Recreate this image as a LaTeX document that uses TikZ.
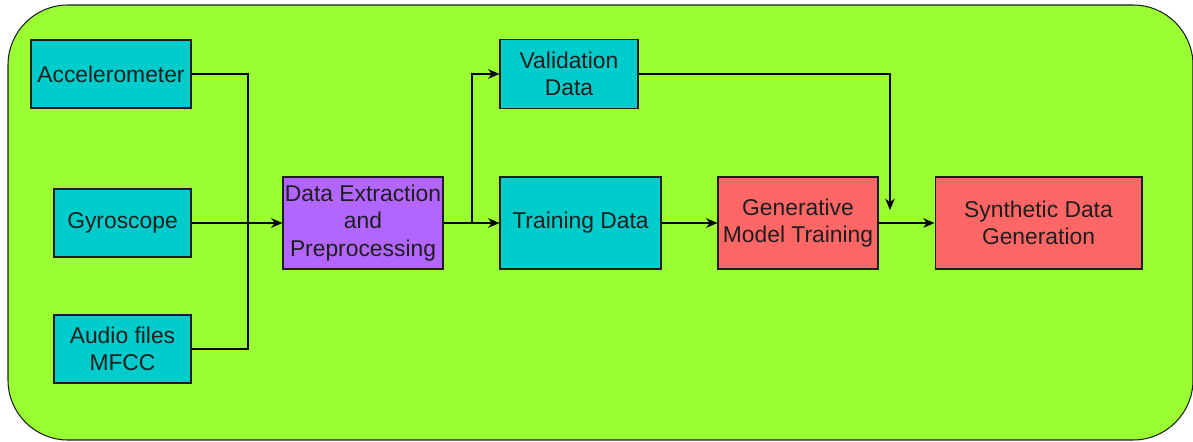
\documentclass[tikz,border=0pt]{standalone}
\usepackage{fontspec}
\setmainfont{Liberation Sans}
\usetikzlibrary{arrows.meta}

\definecolor{bggreen}{RGB}{153,255,51}
\definecolor{boxcyan}{RGB}{0,204,204}
\definecolor{boxpurple}{RGB}{178,102,255}
\definecolor{boxred}{RGB}{255,102,102}
\definecolor{inkgray}{RGB}{30,30,30}

\begin{document}
\begin{tikzpicture}[
x=0.02cm, y=-0.02cm,
line width=0.6pt,
>={Stealth[length=6.5pt,width=5.5pt]},
block/.style={draw=inkgray, text=inkgray, align=center, inner sep=1pt,
  font=\fontsize{13}{15.6}\selectfont},
sensor/.style={block, fill=boxcyan},
prep/.style={block, fill=boxpurple},
model/.style={block, fill=boxred}
]

\useasboundingbox
(0,0)
rectangle
(1193,442);

% Fond
\draw[fill=bggreen, draw=inkgray, rounded corners=1.2cm]
(8,5)
rectangle
(1193,440);

% Capteurs
\node[sensor, minimum width=3.2cm, minimum height=1.36cm] (acc) at (111,74)
{Accelerometer};

\node[sensor, minimum width=2.74cm, minimum height=1.36cm] (gyro) at (122.5,223)
{Gyroscope};

\node[sensor, minimum width=2.74cm, minimum height=1.36cm] (audio) at (122.5,349)
{Audio files\\MFCC};

% Traitement
\node[prep, minimum width=3.2cm, minimum height=1.84cm] (extract) at (363,223)
{Data Extraction\\and\\Preprocessing};

\node[sensor, minimum width=2.76cm, minimum height=1.38cm] (valid) at (569,74)
{Validation\\Data};

\node[sensor, minimum width=3.22cm, minimum height=1.84cm] (train) at (580.5,223)
{Training Data};

\node[model, minimum width=3.2cm, minimum height=1.84cm] (gen) at (798,223)
{Generative\\Model Training};

\node[model, minimum width=4.14cm, minimum height=1.84cm] (synth) at (1038.5,223)
{Synthetic Data\\Generation};

% Liaisons
\coordinate (merge) at (248,223);
\coordinate (split) at (472,223);
\coordinate (drop) at (890,210);

\draw
(acc.east)
-|
(merge);

\draw
(audio.east)
-|
(merge);

\draw[->]
(gyro.east)
--
(extract.west);

\draw[->]
(extract.east)
--
(train.west);

\draw[->]
(split)
|-
(valid.west);

\draw[->]
(train.east)
--
(gen.west);

\draw[->]
(gen.east)
--
(synth.west);

\draw[->]
(valid.east)
-|
(drop);

\end{tikzpicture}
\end{document}
